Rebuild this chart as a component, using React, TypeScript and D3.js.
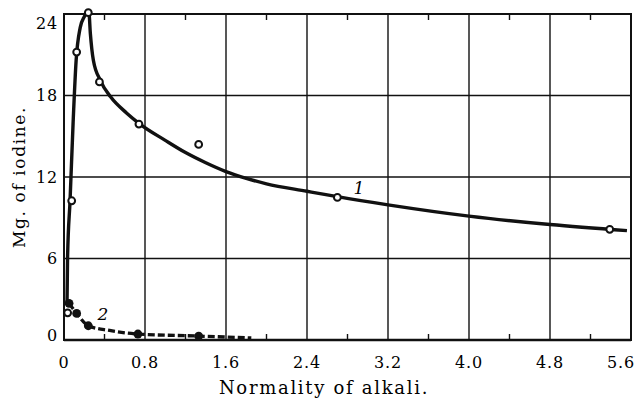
import * as d3 from "d3";

// normality of alkali (N) vs mg of iodine
const curve1Points: [number, number][] = [
  [0.036, 2.0], [0.076, 10.25], [0.125, 21.2], [0.24, 24.1], [0.35, 19.0],
  [0.74, 15.9], [1.33, 14.4], [2.7, 10.5], [5.39, 8.15],
];
// smoothed curve drawn through the data
const curve1Line: [number, number][] = [
  [0.03, 2.8], [0.035, 6], [0.06, 10.3], [0.09, 16], [0.12, 20.6], [0.16, 23.0],
  [0.2, 23.8], [0.245, 24.2], [0.26, 22.6], [0.29, 20.6], [0.36, 19.1],
  [0.46, 17.9], [0.62, 16.7], [0.75, 15.9], [1.0, 14.7], [1.2, 13.8],
  [1.4, 13.05], [1.6, 12.4], [1.8, 11.9], [2.0, 11.5], [2.4, 10.95],
  [2.7, 10.55], [3.2, 9.95], [4.0, 9.12], [4.8, 8.5], [5.56, 8.05],
];
const curve2Points: [number, number][] = [
  [0.05, 2.7], [0.125, 1.96], [0.24, 1.05], [0.73, 0.44], [1.33, 0.29],
];
const curve2Line: [number, number][] = [
  [0.05, 2.7], [0.125, 1.96], [0.24, 1.05], [0.45, 0.7], [0.73, 0.44],
  [1.33, 0.29], [1.85, 0.15],
];

const xTicks = [0, 0.8, 1.6, 2.4, 3.2, 4.0, 4.8, 5.6];
const xMinor = [0.4, 1.2, 2.0, 2.8, 3.6, 4.4, 5.2];
const yTicks = [0, 6, 12, 18, 24];

const W = 641;
const H = 399;
const m = { top: 14, right: 10, bottom: 59, left: 64 };
const font = "'DejaVu Serif', serif";

export default function App() {
  const x = d3.scaleLinear().domain([0, 5.6]).range([m.left, W - m.right]);
  const y = d3.scaleLinear().domain([0, 24]).range([H - m.bottom, m.top]);

  const line = d3
    .line<[number, number]>()
    .x((d) => x(d[0]))
    .y((d) => y(d[1]))
    .curve(d3.curveMonotoneX);

  const x0 = x(0);
  const x1 = x(5.6);
  const y0 = y(0);
  const y1 = y(24);

  return (
    <div style={{ position: "fixed", left: 0, top: 0 }}>
      <svg width={W} height={H} style={{ display: "block", background: "#fff" }}>
        {/* grid */}
        {xTicks.slice(1, -1).map((t) => (
          <line key={"gx" + t} x1={x(t)} x2={x(t)} y1={y1} y2={y0} stroke="#111" strokeWidth={1.4} />
        ))}
        {yTicks.slice(1, -1).map((t) => (
          <line key={"gy" + t} x1={x0} x2={x1} y1={y(t)} y2={y(t)} stroke="#111" strokeWidth={1.4} />
        ))}
        {/* minor ticks */}
        {xMinor.map((t) => (
          <g key={"mt" + t}>
            <line x1={x(t)} x2={x(t)} y1={y1} y2={y1 + 6} stroke="#111" strokeWidth={1.4} />
            <line x1={x(t)} x2={x(t)} y1={y0} y2={y0 - 6} stroke="#111" strokeWidth={1.4} />
          </g>
        ))}
        {/* frame */}
        <rect x={x0} y={y1} width={x1 - x0} height={y0 - y1} fill="none" stroke="#111" strokeWidth={2} />
        <line x1={x0} x2={x1} y1={y0} y2={y0} stroke="#111" strokeWidth={2.6} />

        {/* curve 1 */}
        <path d={line(curve1Line) || ""} fill="none" stroke="#111" strokeWidth={3.4} strokeLinejoin="round" />
        {/* curve 2 */}
        <path d={line(curve2Line) || ""} fill="none" stroke="#111" strokeWidth={3.3} strokeDasharray="7,3" />
        {curve2Points.map((d, i) => (
          <circle key={"c2" + i} cx={x(d[0])} cy={y(d[1])} r={4.4} fill="#111" />
        ))}
        {curve1Points.map((d, i) => (
          <circle key={"c1" + i} cx={x(d[0])} cy={y(d[1])} r={3.4} fill="#fff" stroke="#111" strokeWidth={2} />
        ))}

        <text x={x(2.86)} y={y(10.75)} fontFamily={font} fontStyle="italic" fontSize={17} fill="#000">1</text>
        <text x={x(0.33)} y={y(1.45)} fontFamily={font} fontStyle="italic" fontSize={17} fill="#000">2</text>

        {/* tick labels */}
        {xTicks.map((t, i) => (
          <text
            key={"xl" + t}
            x={x(t) + (i === xTicks.length - 1 ? -10 : 0)}
            y={y0 + 28}
            textAnchor="middle"
            fontFamily={font}
            fontSize={16}
            letterSpacing={0.8}
            fill="#000"
          >
            {t === 0 ? "0" : t.toFixed(1)}
          </text>
        ))}
        {yTicks.map((t) => (
          <text
            key={"yl" + t}
            x={x0 - 6}
            y={Math.min(Math.max(y(t), y1 + 9), y0 - 5)}
            dy="0.36em"
            textAnchor="end"
            fontFamily={font}
            fontSize={16}
            letterSpacing={0.8}
            fill="#000"
          >
            {t}
          </text>
        ))}

        {/* axis titles */}
        <text x={324} y={394} textAnchor="middle" fontFamily={font} fontSize={18} letterSpacing={1.7} fill="#000">
          Normality of alkali.
        </text>
        <text
          transform={`translate(25,${(y0 + y1) / 2}) rotate(-90)`}
          textAnchor="middle"
          fontFamily={font}
          fontSize={17}
          letterSpacing={1.6}
          fill="#000"
        >
          Mg. of iodine.
        </text>
      </svg>
    </div>
  );
}
